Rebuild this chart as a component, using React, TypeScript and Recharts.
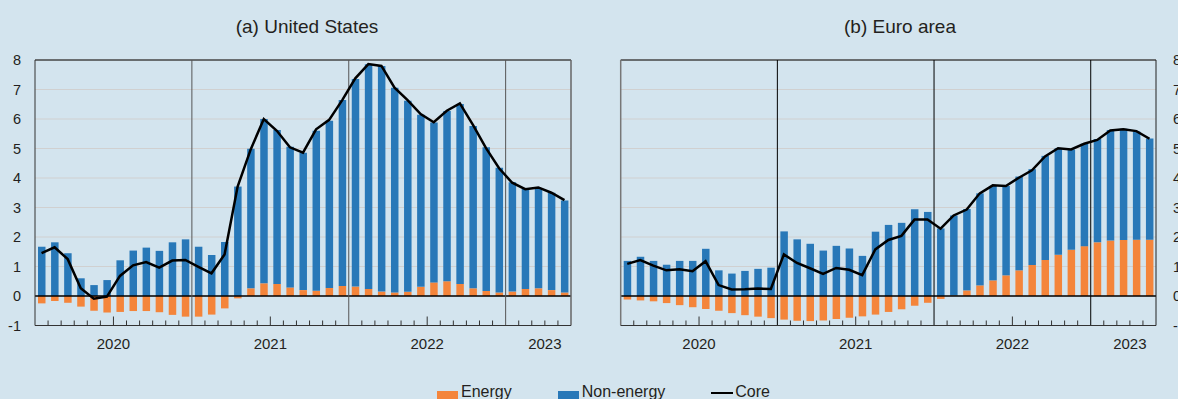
import { ComposedChart, Bar, Line, XAxis, YAxis, CartesianGrid, ReferenceLine } from 'recharts';

// monthly contributions, Jan 2020 - May 2023 (percentage points)
const US_ENERGY = [
  -0.25, -0.17, -0.23, -0.36, -0.5, -0.56, -0.54, -0.51, -0.51, -0.55, -0.64, -0.7,
  -0.7, -0.63, -0.42, -0.08, 0.26, 0.43, 0.41, 0.29, 0.2, 0.18, 0.27, 0.34,
  0.32, 0.24, 0.15, 0.12, 0.14, 0.31, 0.46, 0.5, 0.41, 0.26, 0.17, 0.12,
  0.15, 0.24, 0.26, 0.2, 0.12,
];
const US_NON_ENERGY = [
  1.67, 1.82, 1.45, 0.6, 0.37, 0.54, 1.21, 1.54, 1.64, 1.53, 1.82, 1.92,
  1.67, 1.39, 1.83, 3.71, 4.73, 5.57, 5.22, 4.77, 4.66, 5.42, 5.67, 6.3,
  7.04, 7.62, 7.65, 6.94, 6.48, 5.83, 5.42, 5.77, 6.1, 5.5, 4.87, 4.23,
  3.71, 3.39, 3.38, 3.3, 3.12,
];
const US_CORE = [
  1.45, 1.65, 1.25, 0.26, -0.09, -0.02, 0.68, 1.04, 1.15, 0.96, 1.2, 1.22,
  0.99, 0.77, 1.41, 3.71, 4.97, 6.0, 5.6, 5.04, 4.86, 5.65, 5.97, 6.64,
  7.38, 7.86, 7.8, 7.06, 6.64, 6.17, 5.89, 6.28, 6.53, 5.8, 5.01, 4.33,
  3.84, 3.62, 3.68, 3.5, 3.25,
];

const EA_ENERGY = [
  -0.12, -0.15, -0.18, -0.24, -0.31, -0.38, -0.44, -0.5, -0.58, -0.65, -0.7, -0.75,
  -0.8, -0.84, -0.85, -0.83, -0.78, -0.74, -0.69, -0.63, -0.54, -0.45, -0.33, -0.23,
  -0.1, 0.02, 0.19, 0.36, 0.53, 0.7, 0.87, 1.05, 1.22, 1.4, 1.57, 1.69,
  1.82, 1.88, 1.9, 1.91, 1.91,
];
const EA_NON_ENERGY = [
  1.19, 1.33, 1.19, 1.06, 1.19, 1.19, 1.6, 0.87, 0.76, 0.85, 0.92, 0.96,
  2.19, 1.92, 1.77, 1.54, 1.7, 1.61, 1.36, 2.18, 2.41, 2.48, 2.94, 2.85,
  2.29, 2.71, 2.76, 3.12, 3.2, 3.03, 3.18, 3.25, 3.53, 3.61, 3.4, 3.47,
  3.5, 3.75, 3.77, 3.67, 3.43,
];
const EA_CORE = [
  1.09, 1.22, 1.03, 0.87, 0.91, 0.84, 1.18, 0.37, 0.22, 0.23, 0.25, 0.24,
  1.41, 1.12, 0.94, 0.75, 0.95, 0.89, 0.71, 1.58, 1.9, 2.04, 2.59, 2.59,
  2.28, 2.73, 2.93, 3.48, 3.75, 3.73, 4.01, 4.26, 4.73, 5.01, 4.97, 5.16,
  5.29, 5.61, 5.65, 5.59, 5.33,
];

const YEARS = ['2020', '2021', '2022', '2023'];
const N_MONTHS = US_CORE.length;
const Y_TICKS = [-1, 0, 1, 2, 3, 4, 5, 6, 7, 8];
// axis positions in months from Jan 2020
const YEAR_BREAKS = [12, 24, 36];
const MID_YEAR = [6, 18, 30];
const YEAR_LABEL_AT = [6, 18, 30, 39];
const X_TICKS = Array.from({ length: N_MONTHS + 1 }, (_, i) => i);

const ORANGE = '#f4853b';
const BLUE = '#2878b8';
const BG = '#d3e4ee';
const FONT = '"Liberation Sans", Arial, sans-serif';

function buildRows(energy: number[], nonEnergy: number[], core: number[]) {
  return core.map((c, i) => ({
    x: i + 0.5,
    energy: energy[i],
    nonEnergy: nonEnergy[i],
    core: c,
  }));
}

const usRows = buildRows(US_ENERGY, US_NON_ENERGY, US_CORE);
const eaRows = buildRows(EA_ENERGY, EA_NON_ENERGY, EA_CORE);

function MonthTick(props: any) {
  const { x, y, payload } = props;
  const v = payload.value;
  const idx = YEAR_LABEL_AT.indexOf(v);
  const showTick = v > 0 && v < N_MONTHS && !YEAR_BREAKS.includes(v);
  const len = MID_YEAR.includes(v) ? 9 : 5;
  return (
    <g>
      {showTick && <line x1={x} x2={x} y1={y} y2={y - len} stroke="#333" strokeWidth={1} />}
      {idx >= 0 && (
        <text x={x} y={y + 23} textAnchor="middle" fontSize={15} fill="#231f20" fontFamily={FONT}>
          {YEARS[idx]}
        </text>
      )}
    </g>
  );
}

function Panel({ data, side, sepColor }: { data: any[]; side: 'left' | 'right'; sepColor: string }) {
  const isLeft = side === 'left';
  return (
    <ComposedChart
      width={isLeft ? 600 : 610}
      height={399}
      data={data}
      stackOffset="sign"
      margin={isLeft ? { top: 60, right: 29, left: 0, bottom: 43.5 } : { top: 60, right: 0, left: 30.7, bottom: 43.5 }}
    >
      <CartesianGrid vertical={false} stroke="#d0d0d0" />
      <XAxis
        type="number"
        dataKey="x"
        domain={[0, N_MONTHS]}
        ticks={X_TICKS}
        interval={0}
        height={30}
        tickSize={0}
        tickMargin={0}
        tick={MonthTick}
        axisLine={{ stroke: '#333' }}
      />
      <YAxis
        orientation={side}
        width={isLeft ? 35 : 44}
        domain={[-1, 8]}
        ticks={Y_TICKS}
        interval={0}
        tickSize={0}
        tickMargin={isLeft ? 14 : 17}
        axisLine={{ stroke: isLeft ? '#333' : '#222' }}
        tick={{ fontSize: 14.5, fill: '#231f20', fontFamily: FONT }}
      />
      <Bar dataKey="energy" stackId="s" fill={ORANGE} barSize={7.5} isAnimationActive={false} />
      <Bar dataKey="nonEnergy" stackId="s" fill={BLUE} barSize={7.5} isAnimationActive={false} />
      <ReferenceLine y={0} stroke="#000" strokeWidth={1.5} />
      <ReferenceLine y={8} stroke="#000" />
      <ReferenceLine x={isLeft ? N_MONTHS : 0} stroke={isLeft ? '#666' : '#777'} strokeWidth={1.5} />
      {YEAR_BREAKS.map((b) => (
        <ReferenceLine key={b} x={b} stroke={sepColor} />
      ))}
      <Line
        dataKey="core"
        stroke="#000"
        strokeWidth={2.5}
        dot={false}
        type="linear"
        isAnimationActive={false}
      />
    </ComposedChart>
  );
}

const titleStyle: React.CSSProperties = {
  position: 'absolute',
  top: 14,
  width: 300,
  fontSize: 19,
  lineHeight: '26px',
  textAlign: 'center',
  color: '#231f20',
  fontFamily: FONT,
};

const legendText: React.CSSProperties = { fontSize: 16, lineHeight: '16px', color: '#231f20' };

export default function App() {
  return (
    <div
      style={{
        position: 'absolute',
        left: 0,
        top: 0,
        width: 1178,
        height: 399,
        overflow: 'hidden',
        background: BG,
        fontFamily: FONT,
      }}
    >
      <div style={{ ...titleStyle, left: 157 }}>(a) United States</div>
      <div style={{ ...titleStyle, left: 750 }}>(b) Euro area</div>
      <div style={{ position: 'absolute', left: 0, top: 0 }}>
        <Panel data={usRows} side="left" sepColor="#555" />
      </div>
      <div style={{ position: 'absolute', left: 590, top: 0 }}>
        <Panel data={eaRows} side="right" sepColor="#000" />
      </div>
      <div style={{ position: 'absolute', left: 437, top: 383, display: 'flex', alignItems: 'center', gap: 46 }}>
        <div style={{ display: 'flex', alignItems: 'center', gap: 3 }}>
          <span style={{ width: 21, height: 10, background: ORANGE, marginTop: 8 }} />
          <span style={legendText}>Energy</span>
        </div>
        <div style={{ display: 'flex', alignItems: 'center', gap: 3 }}>
          <span style={{ width: 21, height: 10, background: BLUE, marginTop: 8 }} />
          <span style={legendText}>Non-energy</span>
        </div>
        <div style={{ display: 'flex', alignItems: 'center', gap: 2 }}>
          <span style={{ width: 22, height: 2.5, background: '#000', marginTop: 2 }} />
          <span style={legendText}>Core</span>
        </div>
      </div>
    </div>
  );
}
